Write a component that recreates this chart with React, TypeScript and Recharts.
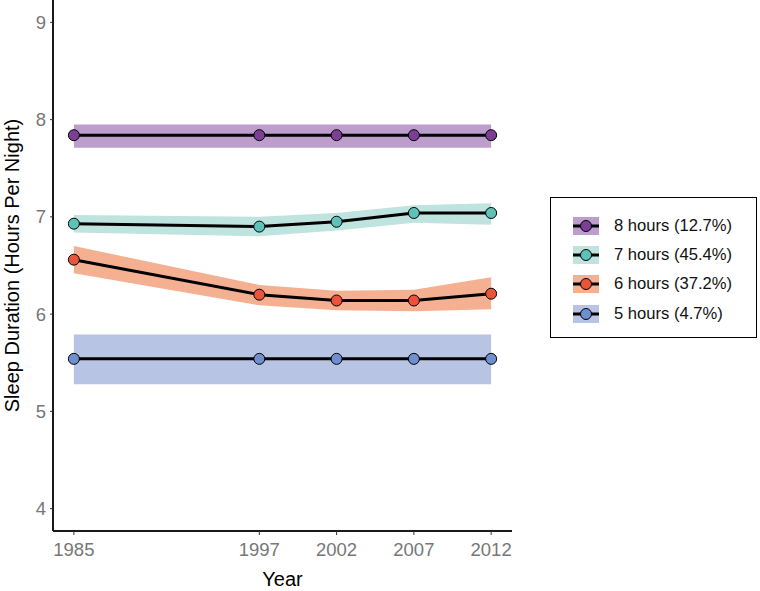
import { ComposedChart, Area, Line, XAxis, YAxis, Legend } from 'recharts';

const years = [1985, 1997, 2002, 2007, 2012];

// mean sleep duration per group, with the ribbon bounds
const mean8 = [7.84, 7.84, 7.84, 7.84, 7.84];
const low8 = [7.71, 7.71, 7.71, 7.71, 7.71];
const high8 = [7.95, 7.95, 7.95, 7.95, 7.95];

const mean7 = [6.93, 6.9, 6.95, 7.04, 7.04];
const low7 = [6.84, 6.8, 6.86, 6.94, 6.92];
const high7 = [7.02, 7.0, 7.04, 7.12, 7.14];

const mean6 = [6.56, 6.2, 6.14, 6.14, 6.21];
const low6 = [6.42, 6.09, 6.04, 6.03, 6.05];
const high6 = [6.7, 6.3, 6.24, 6.25, 6.38];

const mean5 = [5.54, 5.54, 5.54, 5.54, 5.54];
const low5 = [5.28, 5.28, 5.28, 5.28, 5.28];
const high5 = [5.79, 5.79, 5.79, 5.79, 5.79];

const yTicks = [4, 5, 6, 7, 8, 9];

const groups = [
  { key: 'h8', name: '8 hours (12.7%)', mean: mean8, low: low8, high: high8, point: '#7d3f96', band: '#bd9dcb' },
  { key: 'h7', name: '7 hours (45.4%)', mean: mean7, low: low7, high: high7, point: '#5fc2b8', band: '#bfe3df' },
  { key: 'h6', name: '6 hours (37.2%)', mean: mean6, low: low6, high: high6, point: '#e8553a', band: '#f5b091' },
  { key: 'h5', name: '5 hours (4.7%)', mean: mean5, low: low5, high: high5, point: '#6f8fcf', band: '#b8c4e3' },
];

const data = years.map((year, i) => {
  const row: any = { year };
  groups.forEach((g) => {
    row[g.key] = g.mean[i];
    row[g.key + 'Band'] = [g.low[i], g.high[i]];
  });
  return row;
});

const FONT = '"Liberation Sans", Arial, Helvetica, sans-serif';

function LegendBox() {
  return (
    <div
      style={{
        boxSizing: 'border-box',
        width: 207,
        height: 141,
        border: '1px solid #000',
        background: '#fff',
        paddingTop: 13,
        fontFamily: FONT,
      }}
    >
      {groups.map((g) => (
        <div key={g.key} style={{ display: 'flex', alignItems: 'center', height: 29.3 }}>
          <svg width={26} height={18} style={{ marginLeft: 22, flexShrink: 0 }}>
            <rect x={0} y={0} width={26} height={18} fill={g.band} />
            <line x1={0} y1={9} x2={26} y2={9} stroke="#000" strokeWidth={3} />
            <circle cx={13} cy={9} r={5.5} fill={g.point} stroke="#000" strokeWidth={1} />
          </svg>
          <span style={{ marginLeft: 15, fontSize: 16.6, color: '#111', whiteSpace: 'nowrap' }}>{g.name}</span>
        </div>
      ))}
    </div>
  );
}

export default function App() {
  return (
    <div style={{ position: 'absolute', left: 0, top: 0, background: '#fff' }}>
      <ComposedChart
        width={760}
        height={591}
        data={data}
        margin={{ top: 0, right: 248, bottom: 0, left: 0 }}
        style={{ fontFamily: FONT }}
      >
        <XAxis
          dataKey="year"
          type="number"
          domain={[1983.65, 2013.35]}
          ticks={years}
          allowDataOverflow
          height={60}
          tickSize={4}
          tickMargin={8}
          axisLine={{ stroke: '#1a1a1a', strokeWidth: 2 }}
          tickLine={{ stroke: '#333' }}
          tick={{ fill: '#777', fontSize: 18.5 }}
          label={{ value: 'Year', position: 'insideBottom', offset: 0, dy: -5, fill: '#000', fontSize: 20 }}
        />
        <YAxis
          type="number"
          domain={[3.77, 9.23]}
          ticks={yTicks}
          allowDataOverflow
          width={53}
          tickSize={3}
          tickMargin={4}
          axisLine={{ stroke: '#1a1a1a', strokeWidth: 2 }}
          tickLine={{ stroke: '#333' }}
          tick={{ fill: '#777', fontSize: 18.5 }}
          label={{
            content: (props: any) => {
              const vb = props.viewBox;
              const cx = vb.x + 12;
              const cy = vb.y + vb.height / 2;
              return (
                <text
                  x={cx}
                  y={cy}
                  transform={`rotate(-90 ${cx} ${cy})`}
                  textAnchor="middle"
                  dominantBaseline="central"
                  fontSize={20}
                  fill="#000"
                  fontFamily={FONT}
                >
                  Sleep Duration (Hours Per Night)
                </text>
              );
            },
          }}
        />
        {groups.map((g) => (
          <Area
            key={g.key + 'Band'}
            dataKey={g.key + 'Band'}
            type="linear"
            stroke="none"
            fill={g.band}
            fillOpacity={1}
            dot={false}
            activeDot={false}
            isAnimationActive={false}
            legendType="none"
          />
        ))}
        {groups.map((g) => (
          <Line
            key={g.key}
            dataKey={g.key}
            name={g.name}
            type="linear"
            stroke="#000"
            strokeWidth={3}
            dot={{ r: 5.5, fill: g.point, stroke: '#000', strokeWidth: 1 }}
            activeDot={false}
            isAnimationActive={false}
          />
        ))}
        <Legend
          layout="vertical"
          align="center"
          verticalAlign="middle"
          content={() => <LegendBox />}
          wrapperStyle={{ position: 'absolute', left: 550, top: 197, width: 207, height: 141 }}
        />
      </ComposedChart>
    </div>
  );
}
